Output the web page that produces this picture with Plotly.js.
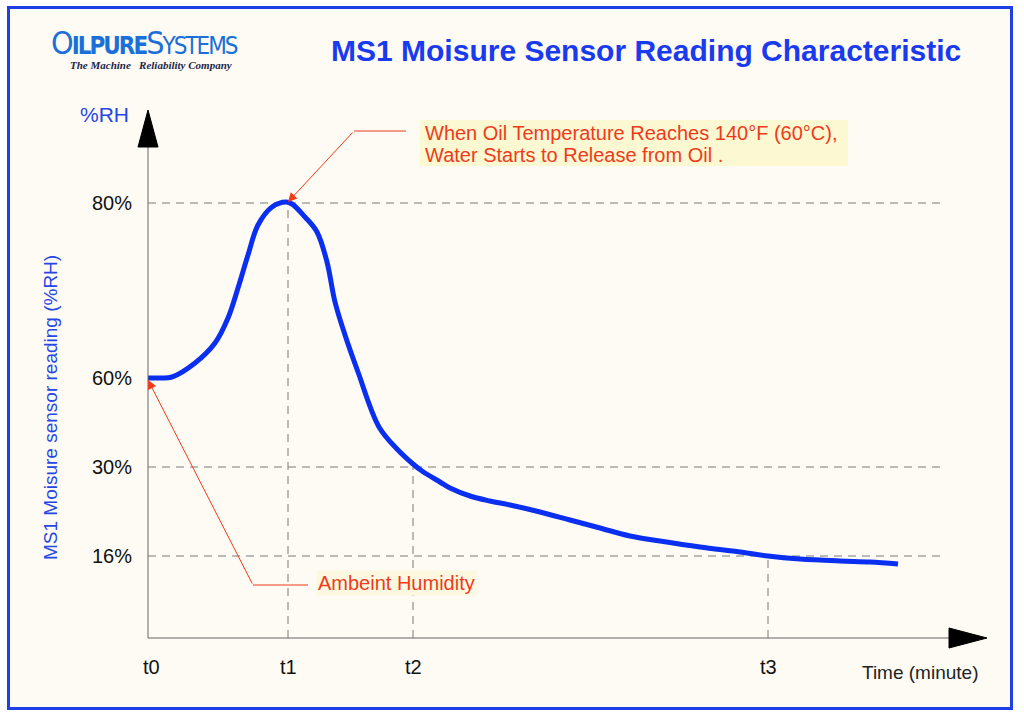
<!DOCTYPE html>
<html>
<head>
<meta charset="utf-8">
<script src="https://cdn.plot.ly/plotly-3.0.1.min.js"></script>
<style>
  html, body { margin: 0; padding: 0; background: #ffffff; }
  #wrap { position: relative; width: 1024px; height: 718px; }
  #frame { position: absolute; left: 7px; top: 6px; width: 1000px; height: 698px;
           border: 3px solid #1f3fe6; background: #fdfbf3; }
  #chart { position: absolute; left: 0; top: 0; width: 1024px; height: 718px; }
</style>
</head>
<body>
<div id="wrap">
  <div id="frame"></div>
  <div id="chart"></div>
</div>
<script>
// ---- data (time in arbitrary schematic units, reading in schematic display levels) ----
const timeTicks  = [0, 140, 265, 620];
const timeLabels = ['t0', 't1', 't2', 't3'];
const rhLevels   = [435, 260, 171, 82];
const rhLabels   = ['80%', '60%', '30%', '16%'];

const curveTime    = [0, 12, 24, 47, 67, 80, 90, 100, 110, 124, 138, 144, 157, 169, 179, 187, 197, 210, 231, 250, 265, 274, 292, 302, 322, 342, 362, 392, 422, 452, 482, 512, 552, 592, 620, 652, 692, 722, 750];
const curveReading = [260, 260, 261, 275, 295, 320, 350, 383, 413, 431, 436, 434, 421, 406, 376, 336, 303, 266, 211, 188, 174, 167, 156, 150, 142, 137, 133, 126, 118, 110, 102, 97, 91, 86, 82, 79, 77, 76, 74];

// guides: t1 -> 80%, t2 -> 30%, t3 -> 16%
const guideTimeIdx  = [1, 2, 3];
const guideLevelIdx = [0, 2, 3];

const peakNote = ['When Oil Temperature Reaches 140°F (60°C),', 'Water Starts to Release from Oil .'];
const ambientNote = 'Ambeint Humidity';

const FONT = 'Liberation Sans, Arial, Helvetica, sans-serif';
const RED = '#ee3b1c';
const BLUE_TXT = '#2646e6';

const shapes = [];
const gridStyle = { color: '#7a7a7a', width: 1, dash: '8px,6px' };
const gridEnd = 794;
guideTimeIdx.forEach((ti, k) => {
  const lv = rhLevels[guideLevelIdx[k]];
  const t = timeTicks[ti];
  shapes.push({ type: 'line', xref: 'x', yref: 'y', x0: 0, x1: gridEnd, y0: lv, y1: lv, line: gridStyle, layer: 'below' });
  shapes.push({ type: 'line', xref: 'x', yref: 'y', x0: t, x1: t, y0: 0, y1: lv, line: gridStyle, layer: 'below' });
});
// highlight behind the peak note
shapes.push({ type: 'rect', xref: 'x', yref: 'y', x0: 272, x1: 700, y0: 472, y1: 518, fillcolor: '#fcf8d2', line: { width: 0 }, layer: 'below' });
// axes with arrowheads
shapes.push({ type: 'line', xref: 'x', yref: 'y', x0: 0, x1: 802, y0: 0, y1: 0, line: { color: '#666', width: 1 } });
shapes.push({ type: 'line', xref: 'x', yref: 'y', x0: 0, x1: 0, y0: 0, y1: 492, line: { color: '#666', width: 1 } });
shapes.push({ type: 'path', xref: 'x', yref: 'y', path: 'M 801,-10 L 839,0 L 801,10 Z', fillcolor: '#000', line: { color: '#000', width: 1 } });
shapes.push({ type: 'path', xref: 'x', yref: 'y', path: 'M -10,491 L 0,528 L 10,491 Z', fillcolor: '#000', line: { color: '#000', width: 1 } });
// callout tails
shapes.push({ type: 'line', xref: 'x', yref: 'y', x0: 206, x1: 258, y0: 507, y1: 507, line: { color: RED, width: 1 } });
shapes.push({ type: 'line', xref: 'x', yref: 'y', x0: 105, x1: 160, y0: 53, y1: 53, line: { color: RED, width: 1 } });

const annotations = [];
rhLabels.forEach((lab, i) => {
  annotations.push({ x: -14, y: rhLevels[i], xref: 'x', yref: 'y', text: lab, showarrow: false,
    xanchor: 'right', yanchor: 'middle', font: { family: FONT, size: 20, color: '#111' } });
});
timeLabels.forEach((lab, i) => {
  annotations.push({ x: timeTicks[i] + (i === 0 ? 3 : 0), y: -29, xref: 'x', yref: 'y', text: lab, showarrow: false,
    xanchor: 'center', yanchor: 'middle', font: { family: FONT, size: 20, color: '#111' } });
});
peakNote.forEach((line, i) => {
  annotations.push({ x: 275, y: 505 - 22 * i, xref: 'x', yref: 'y', text: line, showarrow: false,
    xanchor: 'left', yanchor: 'middle', font: { family: FONT, size: 20, color: RED } });
});
annotations.push(
  { x: 712, y: -34, xref: 'x', yref: 'y', text: 'Time (minute)', showarrow: false, xanchor: 'left', yanchor: 'middle',
    font: { family: FONT, size: 19, color: '#222' } },
  { x: -70, y: 524, xref: 'x', yref: 'y', text: '%RH', showarrow: false, xanchor: 'left', yanchor: 'middle',
    font: { family: FONT, size: 21, color: BLUE_TXT } },
  { x: -98, y: 230, xref: 'x', yref: 'y', text: 'MS1 Moisure sensor reading (%RH)', showarrow: false, textangle: -90,
    xanchor: 'center', yanchor: 'middle', font: { family: FONT, size: 19, color: BLUE_TXT } },
  { x: 140, y: 436, ax: 206, ay: 507, xref: 'x', yref: 'y', axref: 'x', ayref: 'y', text: '', showarrow: true,
    arrowhead: 2, arrowsize: 1.8, arrowwidth: 1, arrowcolor: RED, standoff: 0 },
  // ambient callout
  { x: 168, y: 55, xref: 'x', yref: 'y', text: ambientNote, showarrow: false, xanchor: 'left', yanchor: 'middle',
    bgcolor: '#fdf9e0', borderpad: 1, font: { family: FONT, size: 20, color: RED } },
  { x: 0, y: 258, ax: 105, ay: 53, xref: 'x', yref: 'y', axref: 'x', ayref: 'y', text: '', showarrow: true,
    arrowhead: 2, arrowsize: 1.8, arrowwidth: 1, arrowcolor: RED, standoff: 0 },
  // logo
  { x: -99, y: 595, xref: 'x', yref: 'y', showarrow: false, xanchor: 'left', yanchor: 'middle',
    text: '<span style="font-size:32px;letter-spacing:-2px">O</span><span style="letter-spacing:-2px"><b>ILPURE</b></span><span style="font-size:32px;letter-spacing:-2px">S</span><span style="letter-spacing:-2px">YSTEMS</span>',
    font: { family: 'Liberation Sans Narrow, DejaVu Sans Condensed, Arial Narrow, ' + FONT, size: 24, color: '#1c6fd8' } },
  { x: -80, y: 573, xref: 'x', yref: 'y', showarrow: false, xanchor: 'left', yanchor: 'middle',
    text: '<b><i>The Machine   Reliability Company</i></b>',
    font: { family: 'Liberation Serif, Times New Roman, serif', size: 11, color: '#1c2448' } }
);

const trace = {
  x: curveTime, y: curveReading, type: 'scatter', mode: 'lines',
  line: { color: '#0a2ff0', width: 5, shape: 'spline', smoothing: 1 },
  hoverinfo: 'skip', showlegend: false
};

const layout = {
  width: 1024, height: 718,
  margin: { l: 0, r: 0, t: 0, b: 0 },
  paper_bgcolor: 'rgba(0,0,0,0)', plot_bgcolor: 'rgba(0,0,0,0)',
  title: { text: '<b>MS1 Moisure Sensor Reading Characteristic</b>', xref: 'paper', yref: 'container',
    x: 0.631, y: 0.930, xanchor: 'center', yanchor: 'middle',
    font: { family: FONT, size: 30, color: '#1a3af0' } },
  xaxis: { range: [-148, 876], showgrid: false, zeroline: false, showline: false, showticklabels: false, ticks: '', fixedrange: true },
  yaxis: { range: [-80, 638], showgrid: false, zeroline: false, showline: false, showticklabels: false, ticks: '', fixedrange: true },
  shapes: shapes,
  annotations: annotations,
  showlegend: false
};

Plotly.newPlot('chart', [trace], layout, { displayModeBar: false, staticPlot: true });
</script>
</body>
</html>
